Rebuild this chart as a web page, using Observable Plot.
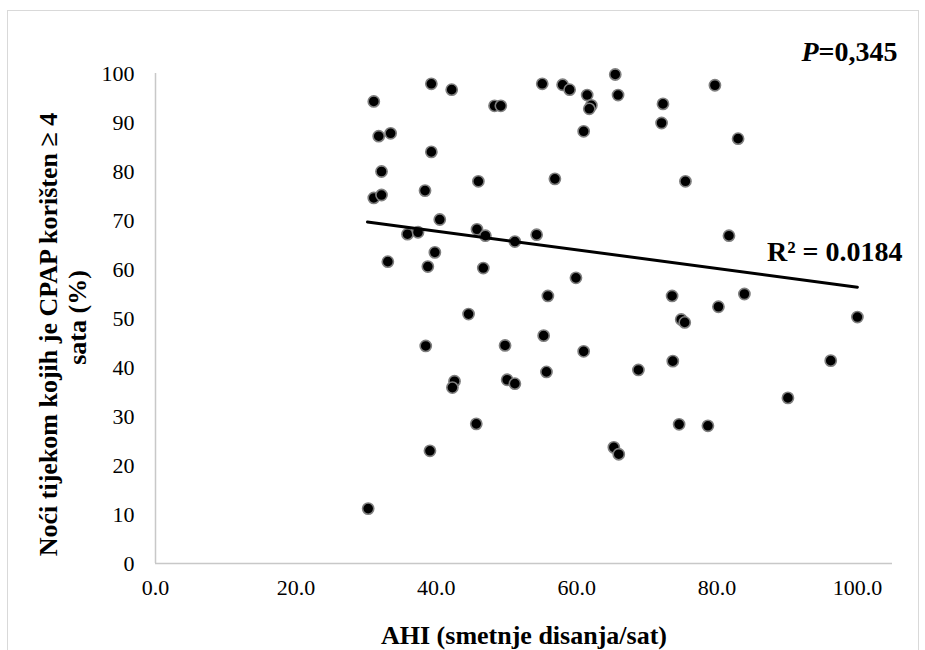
<!DOCTYPE html>
<html><head><meta charset="utf-8">
<script src="https://cdn.jsdelivr.net/npm/d3@7"></script>
<script src="https://cdn.jsdelivr.net/npm/@observablehq/plot@0.6"></script>
<style>
body{margin:0;background:#fff;}
#wrap{position:relative;width:925px;height:650px;overflow:hidden;background:#fff;}
#wrap svg{position:absolute;left:0;top:0;}
#wrap svg text{font-family:'Liberation Serif','Times New Roman',serif !important;font-variant:normal !important;font-variant-numeric:normal !important;}
#border{position:absolute;left:7px;top:10px;width:912px;height:680px;border:1.5px solid #d9d9d9;box-sizing:border-box;pointer-events:none;}
</style></head><body>
<div id="wrap"><div id="border"></div></div>
<script>
// AHI (smetnje disanja/sat)
const ahi = [39.3, 42.2, 48.3, 49.2, 31.1, 31.8, 33.5, 39.3, 32.2, 46.0,
  38.4, 31.1, 32.2, 40.5, 35.9, 37.4, 45.8, 47.0, 39.8, 33.1,
  38.8, 46.7, 44.6, 38.5, 49.8, 42.6, 42.3, 50.1, 51.2, 45.7,
  39.1, 30.3, 55.1, 58.0, 59.0, 65.5, 65.9, 61.5, 62.1, 61.8,
  72.3, 72.1, 61.0, 56.9, 75.5, 51.2, 54.3, 59.9, 55.9, 73.6,
  74.9, 75.4, 55.3, 61.0, 55.7, 68.8, 73.7, 74.6, 65.3, 66.0,
  79.7, 83.0, 81.7, 83.9, 80.2, 100.0, 96.2, 90.1, 78.7];
// Noći tijekom kojih je CPAP korišten ≥ 4 sata (%)
const nights = [97.9, 96.7, 93.4, 93.4, 94.3, 87.2, 87.8, 84.0, 80.0, 78.0,
  76.1, 74.6, 75.2, 70.2, 67.2, 67.6, 68.2, 66.9, 63.5, 61.6,
  60.6, 60.3, 50.9, 44.4, 44.5, 37.2, 35.9, 37.5, 36.7, 28.5,
  23.0, 11.2, 97.9, 97.7, 96.7, 99.8, 95.6, 95.6, 93.5, 92.8,
  93.8, 89.9, 88.2, 78.5, 78.0, 65.7, 67.1, 58.3, 54.6, 54.6,
  49.8, 49.2, 46.5, 43.3, 39.1, 39.5, 41.3, 28.4, 23.7, 22.3,
  97.6, 86.7, 66.9, 55.0, 52.4, 50.3, 41.4, 33.8, 28.1];
// linear trend line endpoints
const trendAhi = [30.2, 100.0];
const trendNights = [69.7, 56.4];
const xTicks = [0, 20, 40, 60, 80, 100];
const yTicks = [0, 10, 20, 30, 40, 50, 60, 70, 80, 90, 100];
const xTitle = "AHI (smetnje disanja/sat)";
const yTitle1 = "Noći tijekom kojih je CPAP korišten ≥ 4";
const yTitle2 = "sata (%)";
const pText = "P=0,345";
const r2Text = "R² = 0.0184";

const points = ahi.map((a, i) => ({ahi: a, nights: nights[i]}));
const trend = trendAhi.map((a, i) => ({ahi: a, nights: trendNights[i]}));

const font = "'Liberation Serif', 'Times New Roman', serif";

const chart = Plot.plot({
  width: 925,
  height: 650,
  marginLeft: 155,
  marginRight: 33,
  marginTop: 73,
  marginBottom: 87,
  style: {fontFamily: font, fontSize: "22px", color: "black", background: "transparent", overflow: "visible"},
  x: {domain: [0, 105], label: null},
  y: {domain: [0, 100], label: null},
  marks: [
    Plot.ruleX([0], {stroke: "#c8c8c8", strokeWidth: 1.5}),
    Plot.ruleY([0], {stroke: "#c8c8c8", strokeWidth: 1.5}),
    Plot.axisX({ticks: xTicks, tickFormat: d => d.toFixed(1), tickSize: 0, tickPadding: 16, fontSize: 22, fontFamily: font, fontVariant: "normal", fill: "black"}),
    Plot.axisY({ticks: yTicks, tickFormat: d => String(d), tickSize: 0, tickPadding: 21, fontSize: 22, fontFamily: font, fontVariant: "normal", fill: "black"}),
    Plot.dot(points, {x: "ahi", y: "nights", r: 5.6, fill: "black", stroke: "#7f7f7f", strokeWidth: 1.6}),
    Plot.line(trend, {x: "ahi", y: "nights", stroke: "black", strokeWidth: 3}),
    Plot.text([xTitle], {text: d => d, frameAnchor: "bottom", dy: 72, lineAnchor: "middle", fontSize: 26, fontWeight: "bold", fontFamily: font, fill: "black"}),
    Plot.text([yTitle1], {text: d => d, frameAnchor: "left", rotate: -90, dx: -107, dy: 16, textAnchor: "middle", lineAnchor: "middle", fontSize: 26, fontWeight: "bold", fontFamily: font, fill: "black"}),
    Plot.text([yTitle2], {text: d => d, frameAnchor: "left", rotate: -90, dx: -78, dy: -1, textAnchor: "middle", lineAnchor: "middle", fontSize: 26, fontWeight: "bold", fontFamily: font, fill: "black"}),
    Plot.text([pText], {text: d => d, frameAnchor: "top-right", dx: 5, dy: -21, textAnchor: "end", lineAnchor: "middle", fontSize: 28, fontWeight: "bold", fontFamily: font, fill: "black"}),
    Plot.text([r2Text], {text: d => d, frameAnchor: "top-right", dx: 10, dy: 179, textAnchor: "end", lineAnchor: "middle", fontSize: 28, fontWeight: "bold", fontFamily: font, fill: "black"})
  ]
});

const svgSel = d3.select(chart);
// make every label use the serif face
svgSel.selectAll("g, text").attr("font-family", font).attr("font-variant", "normal");
// italic P in the p-value annotation
svgSel.selectAll("text").each(function() {
  const t = d3.select(this);
  if (t.text() === pText) {
    t.text(null);
    t.append("tspan").attr("font-style", "italic").text(pText.slice(0, 1));
    t.append("tspan").text(pText.slice(1));
  }
});

document.getElementById("wrap").appendChild(chart);
</script>
</body></html>
